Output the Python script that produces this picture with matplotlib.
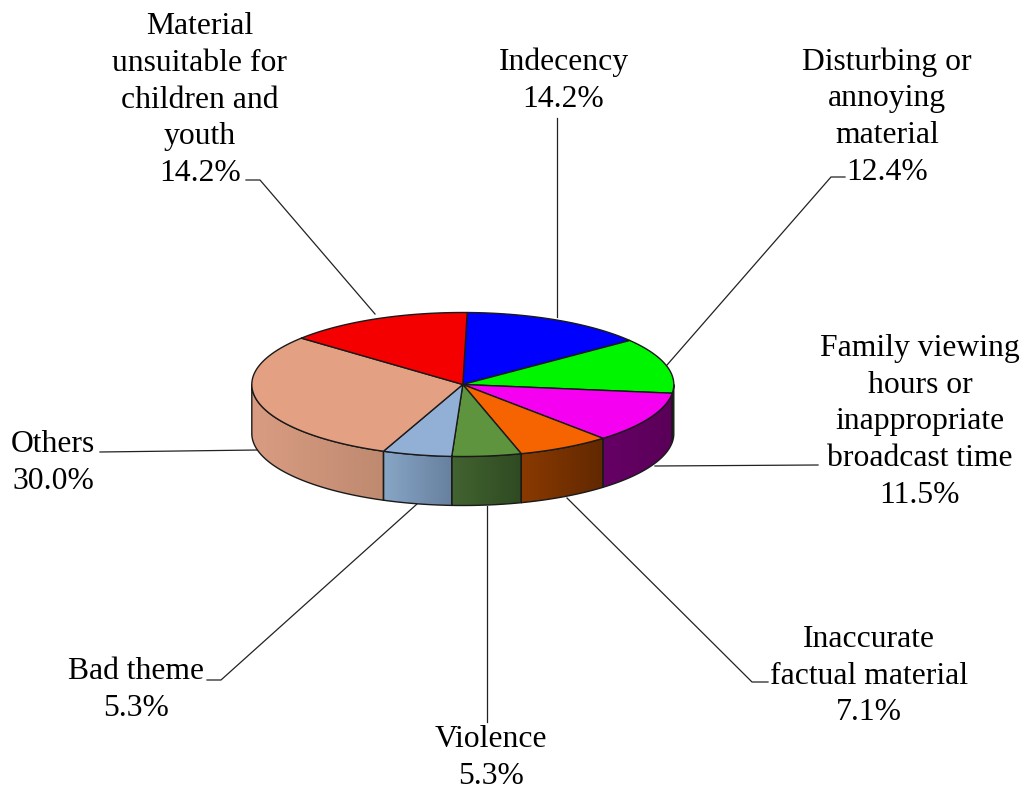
import numpy as np
import matplotlib
matplotlib.use('Agg')
import matplotlib.pyplot as plt
from matplotlib.patches import Polygon

# Data, clockwise from the top of the pie
labels = ['Indecency', 'Disturbing or\nannoying\nmaterial',
          'Family viewing\nhours or\ninappropriate\nbroadcast time',
          'Inaccurate\nfactual material', 'Violence', 'Bad theme', 'Others',
          'Material\nunsuitable for\nchildren and\nyouth']
shares = [14.2, 12.4, 11.5, 7.1, 5.3, 5.3, 30.0, 14.2]
colors = ['#0000ff', '#00f500', '#f500f0', '#f56400', '#5e943e', '#92b0d6', '#e4a083', '#f50000']

# Side wall gradients (left colour, right colour)
side_left = ['#000080', '#007000', '#660066', '#8a3a00', '#426430', '#88a6c6', '#d99c82', '#800000']
side_right = ['#000080', '#007000', '#5a0058', '#622800', '#2f4a22', '#67809f', '#bf8a70', '#800000']

# Label centres and leader lines in pixels
label_x = [563.5, 887, 920, 869, 491, 136, 53, 200]
label_y = [81, 117, 422, 676, 758, 690, 463, 100]
leaders = [
    [(557, 118), (557, 317)],
    [(845, 177), (831, 177), (667, 365)],
    [(818, 465), (655, 466)],
    [(768, 682), (752, 682), (567, 498)],
    [(487, 722), (487, 506)],
    [(207, 680), (221, 680), (417, 504)],
    [(100, 452), (258, 450)],
    [(246, 180), (260, 180), (375, 314)],
]

cx, cy = 462.8, 384.5
rx, ry = 211, 72
depth = 49
start = 1.2

plt.rcParams['font.family'] = ['Liberation Serif', 'DejaVu Serif']

fig = plt.figure(figsize=(10.28, 7.92), dpi=100)
ax = fig.add_axes([0, 0, 1, 1])


def rim(a, b, n=80):
    # points on the top ellipse, angles in degrees clockwise from the top
    t = np.radians(np.linspace(a, b, n))
    return np.column_stack([cx + rx * np.sin(t), cy - ry * np.cos(t)])


# Leader lines
for pts in leaders:
    xs, ys = zip(*pts)
    ax.plot(xs, ys, color='#222222', lw=0.9, zorder=1)

edges = start + np.cumsum([0] + shares) * 3.6

# Side walls of the front half
for i in range(len(shares)):
    a = max(edges[i], 90)
    b = min(edges[i + 1], 270)
    if b <= a:
        continue
    top = rim(a, b)
    wall = np.vstack([top, (top + [0, depth])[::-1]])
    poly = Polygon(wall, closed=True, facecolor='none', edgecolor='#1a1a1a', lw=1.0, zorder=3)
    ax.add_patch(poly)
    c0 = np.array(matplotlib.colors.to_rgb(side_left[i]))
    c1 = np.array(matplotlib.colors.to_rgb(side_right[i]))
    f = np.linspace(0, 1, 128)[:, None]
    img = (c0 * (1 - f) + c1 * f)[None, :, :]
    xmin, xmax = wall[:, 0].min(), wall[:, 0].max()
    ymin, ymax = wall[:, 1].min(), wall[:, 1].max()
    im = ax.imshow(img, extent=[xmin, xmax, ymax, ymin], aspect='auto', zorder=2)
    clip = Polygon(wall, closed=True, transform=ax.transData)
    im.set_clip_path(clip)

# Top slices
for i in range(len(shares)):
    top = rim(edges[i], edges[i + 1])
    ax.add_patch(Polygon(np.vstack([[cx, cy], top]), closed=True, facecolor=colors[i],
                         edgecolor='#1a1a1a', lw=1.0, joinstyle='round', zorder=4))

# Labels
for i, name in enumerate(labels):
    ax.text(label_x[i], label_y[i], f'{name}\n{shares[i]:.1f}%', ha='center', va='center',
            fontsize=22.8, color='black', linespacing=1.345, zorder=5)

ax.set_xlim(0, 1028)
ax.set_ylim(792, 0)
ax.axis('off')

fig.savefig('out.png', dpi=100, facecolor='white')
